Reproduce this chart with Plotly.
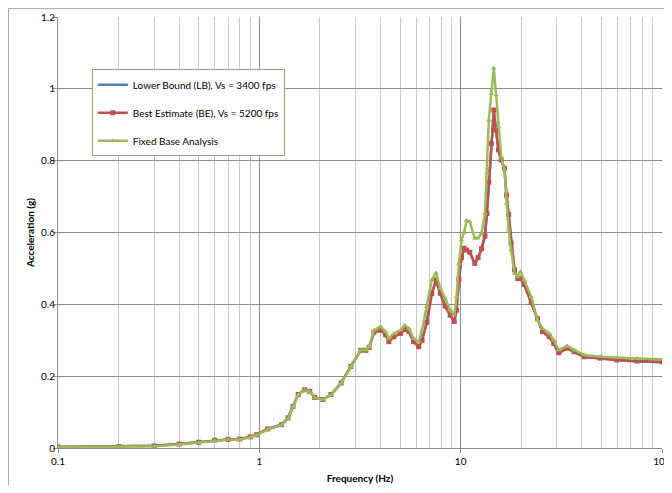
#!/usr/bin/env python3
# -*- coding: utf-8 -*-

import plotly.graph_objects as go

# frequencies (Hz)
freq = [0.1, 0.2, 0.3, 0.4, 0.5, 0.6, 0.7, 0.8, 0.9, 0.97,
        1.1, 1.29, 1.39, 1.47, 1.56, 1.68, 1.78, 1.88, 2.07, 2.27,
        2.55, 2.85, 3.19, 3.38, 3.51, 3.71, 4.0, 4.24, 4.4, 4.66,
        5.03, 5.28, 5.52, 5.84, 6.19, 6.43, 6.79, 7.19, 7.54, 7.92,
        8.37, 8.87, 9.29, 9.54, 9.8, 10.1, 10.4, 10.7, 11.1, 11.75,
        12.2, 12.7, 13.2, 13.5, 13.8, 14.2, 14.6, 15.0, 15.4, 15.9,
        16.5, 16.9, 17.3, 17.8, 18.5, 19.2, 19.8, 20.7, 22.4, 24.1,
        25.5, 27.5, 29.0, 30.7, 33.8, 36.6, 41.1, 49.4, 59.6, 75.1,
        100]

# Lower Bound (LB), Vs = 3400 fps
lb_acc = [0.003, 0.004, 0.006, 0.011, 0.016, 0.022, 0.024, 0.025, 0.031, 0.037,
          0.053, 0.065, 0.084, 0.116, 0.149, 0.162, 0.158, 0.141, 0.135, 0.149,
          0.181, 0.227, 0.272, 0.272, 0.280, 0.322, 0.328, 0.315, 0.296, 0.310,
          0.319, 0.330, 0.325, 0.296, 0.282, 0.300, 0.350, 0.430, 0.466, 0.430,
          0.395, 0.370, 0.352, 0.384, 0.470, 0.530, 0.556, 0.551, 0.545, 0.514,
          0.530, 0.555, 0.590, 0.653, 0.740, 0.845, 0.935, 0.882, 0.828, 0.800,
          0.777, 0.702, 0.648, 0.568, 0.495, 0.471, 0.471, 0.454, 0.404, 0.358,
          0.323, 0.309, 0.290, 0.264, 0.277, 0.267, 0.253, 0.249, 0.244, 0.241,
          0.239]

# Best Estimate (BE), Vs = 5200 fps
be_acc = [0.003, 0.004, 0.006, 0.011, 0.016, 0.022, 0.024, 0.025, 0.031, 0.037,
          0.053, 0.065, 0.084, 0.116, 0.149, 0.162, 0.158, 0.141, 0.135, 0.149,
          0.181, 0.227, 0.272, 0.272, 0.280, 0.322, 0.328, 0.315, 0.296, 0.310,
          0.319, 0.330, 0.325, 0.296, 0.282, 0.300, 0.350, 0.430, 0.468, 0.431,
          0.395, 0.370, 0.352, 0.384, 0.470, 0.530, 0.556, 0.551, 0.545, 0.514,
          0.530, 0.555, 0.590, 0.653, 0.740, 0.848, 0.941, 0.885, 0.830, 0.802,
          0.779, 0.704, 0.650, 0.570, 0.496, 0.472, 0.472, 0.455, 0.405, 0.360,
          0.324, 0.310, 0.291, 0.265, 0.278, 0.268, 0.254, 0.250, 0.245, 0.242,
          0.240]

# Fixed Base Analysis
fb_acc = [0.002, 0.003, 0.005, 0.010, 0.015, 0.021, 0.023, 0.024, 0.030, 0.036,
          0.052, 0.064, 0.083, 0.115, 0.148, 0.161, 0.157, 0.140, 0.134, 0.148,
          0.180, 0.226, 0.273, 0.273, 0.282, 0.328, 0.338, 0.324, 0.305, 0.319,
          0.328, 0.342, 0.333, 0.305, 0.296, 0.328, 0.393, 0.468, 0.488, 0.445,
          0.417, 0.384, 0.370, 0.421, 0.514, 0.579, 0.600, 0.633, 0.630, 0.584,
          0.584, 0.598, 0.653, 0.765, 0.913, 0.987, 1.057, 0.983, 0.894, 0.811,
          0.774, 0.681, 0.607, 0.551, 0.486, 0.477, 0.491, 0.468, 0.421, 0.356,
          0.333, 0.319, 0.301, 0.273, 0.284, 0.273, 0.259, 0.254, 0.251, 0.249,
          0.247]

x_tick_vals = [0.1, 1, 10, 100]
x_tick_text = ["0.1", "1", "10", "100"]
y_tick_vals = [0, 0.2, 0.4, 0.6, 0.8, 1, 1.2]
y_tick_text = ["0", "0.2", "0.4", "0.6", "0.8", "1", "1.2"]

FONT = "Lato, 'Liberation Sans', sans-serif"
GRID = "#8c8c8c"
MINOR_GRID = "#c8c8c8"

minor_vals = [m * d for d in (0.1, 1, 10) for m in range(2, 10)]

fig = go.Figure()
fig.add_trace(go.Scatter(
    x=freq, y=lb_acc, mode="lines",
    name="Lower Bound (LB), Vs = 3400 fps",
    line=dict(color="#4F81BD", width=2.5),
    legendgroup="lb"
))
fig.add_trace(go.Scatter(
    x=freq, y=be_acc, mode="lines+markers",
    name="Best Estimate (BE), Vs = 5200 fps",
    line=dict(color="#C0504D", width=2.5),
    marker=dict(symbol="square", size=5, color="#C0504D"),
    legendgroup="be"
))
fig.add_trace(go.Scatter(
    x=freq, y=fb_acc, mode="lines+markers",
    name="Fixed Base Analysis",
    line=dict(color="#9BBB59", width=2.5),
    marker=dict(symbol="triangle-up", size=5, color="#9BBB59"),
    legendgroup="fb"
))

fig.update_xaxes(
    type="log", range=[-1, 2],
    tickvals=x_tick_vals, ticktext=x_tick_text,
    showgrid=True, gridcolor=GRID, gridwidth=1,
    minor=dict(tickvals=minor_vals, showgrid=True,
               gridcolor=MINOR_GRID, gridwidth=1, ticks=""),
    showline=True, linecolor=GRID, linewidth=1,
    ticks="outside", ticklen=4, tickcolor=GRID,
    zeroline=False, automargin=False,
    tickfont=dict(size=10, color="#000000", family=FONT),
    title=dict(text="<b>Frequency (Hz)</b>", standoff=8,
               font=dict(size=10, color="#000000", family=FONT))
)
fig.update_yaxes(
    range=[0, 1.2],
    tickvals=y_tick_vals, ticktext=y_tick_text,
    showgrid=True, gridcolor=GRID, gridwidth=1,
    showline=True, linecolor=GRID, linewidth=1,
    ticks="outside", ticklen=4, tickcolor=GRID,
    ticklabelstandoff=-4,
    zeroline=False, automargin=False,
    tickfont=dict(size=10, color="#000000", family=FONT),
    title=dict(text="<b>Acceleration (g)</b>", standoff=4,
               font=dict(size=10, color="#000000", family=FONT))
)

# outer chart border (right and bottom edges fall outside the view)
fig.add_shape(type="rect", xref="paper", yref="paper",
              x0=-0.082, x1=1.1, y0=-0.2, y1=1.0195,
              line=dict(color="#a6a6a6", width=1), layer="below")

# page body adds an 8px offset, so the figure is a bit smaller than the view
fig.update_layout(
    width=664, height=477,
    margin=dict(l=50, r=10, t=9, b=37),
    paper_bgcolor="white", plot_bgcolor="white",
    font=dict(family=FONT, size=10, color="#000000"),
    showlegend=True,
    legend=dict(
        x=0.056, y=0.879, xanchor="left", yanchor="top",
        bgcolor="white", bordercolor="#9aa386", borderwidth=1,
        font=dict(size=10, family=FONT, color="#000000"),
        tracegroupgap=9, itemwidth=30
    )
)

fig.write_html("out.html")
